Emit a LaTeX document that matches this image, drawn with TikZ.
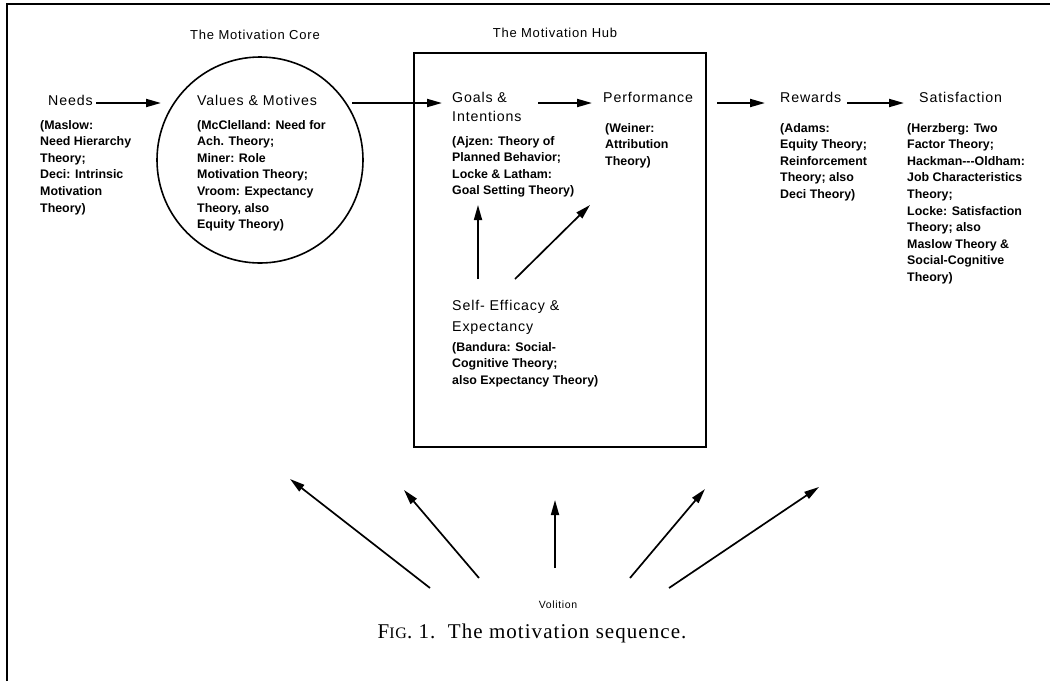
\documentclass[tikz,border=0pt]{standalone}
\usepackage{fontspec}
\usetikzlibrary{arrows.meta}
\newfontfamily\hv{Liberation Sans}
\newfontfamily\hvl[LetterSpace=6]{Liberation Sans}
\newfontfamily\tms[LetterSpace=5]{Liberation Serif}
\begin{document}
\begin{tikzpicture}[x=1pt,y=-1pt,
  lab/.style={font=\hvl\fontsize{14.2}{19.5}\selectfont, inner sep=0pt, anchor=north west, align=left},
  desc/.style={font=\hv\bfseries\fontsize{12.4}{16.6}\selectfont, inner sep=0pt, anchor=north west, align=left},
  ttl/.style={font=\hvl\fontsize{13}{15}\selectfont, inner sep=0pt},
  arr/.style={line width=1.9pt, -{Triangle[length=15pt,width=8pt]}},
  arrs/.style={line width=1.7pt, -{Triangle[length=15pt,width=8pt]}},
  shp/.style={draw, line width=1.6pt}
]
\useasboundingbox (0,0) rectangle (1050,681);
\draw[line width=2.2pt] (7,681) -- (7,4) -- (1050,4);

% titles
\node[ttl] (tcore) at (255,35) {The Motivation Core};
\node[ttl] (thub) at (555,33) {The Motivation Hub};

% core circle and hub box
\node[shp, circle, minimum size=206pt, inner sep=0pt] (core) at (260,160) {};
\node[shp, rectangle, minimum width=292pt, minimum height=394pt, inner sep=0pt, anchor=north west] (hub) at (413,52) {};

% labels
\node[lab] (needs) at (48,95) {Needs};
\node[desc] (needsd) at (40,120) {(Maslow:\\Need Hierarchy\\Theory;\\Deci: Intrinsic\\Motivation\\Theory)};

\node[lab] (values) at (197,95) {Values \& Motives};
\node[desc] (valuesd) at (197,120) {(McClelland: Need for\\Ach. Theory;\\Miner: Role\\Motivation Theory;\\Vroom: Expectancy\\Theory, also\\Equity Theory)};

\node[lab] (goals) at (452,92) {Goals \&\\Intentions};
\node[desc] (goalsd) at (452,136) {(Ajzen: Theory of\\Planned Behavior;\\Locke \& Latham:\\Goal Setting Theory)};

\node[lab] (perf) at (603,92) {Performance};
\node[desc] (perfd) at (605,123) {(Weiner:\\Attribution\\Theory)};

\node[lab] (rew) at (780,92) {Rewards};
\node[desc] (rewd) at (780,123) {(Adams:\\Equity Theory;\\Reinforcement\\Theory; also\\Deci Theory)};

\node[lab] (sat) at (919,92) {Satisfaction};
\node[desc] (satd) at (907,123) {(Herzberg: Two\\Factor Theory;\\Hackman---Oldham:\\Job Characteristics\\Theory;\\Locke: Satisfaction\\Theory; also\\Maslow Theory \&\\Social-Cognitive\\Theory)};

\node[lab, font=\hvl\fontsize{14.2}{21}\selectfont] (self) at (452,300) {Self- Efficacy \&\\Expectancy};
\node[desc] (selfd) at (452,342) {(Bandura: Social-\\Cognitive Theory;\\also Expectancy Theory)};

\node[ttl, font=\hvl\fontsize{10.5}{12}\selectfont] (vol) at (558,605) {Volition};
\node[inner sep=0pt, font=\tms\fontsize{21}{24}\selectfont] (cap) at (532,633) {F{\fontsize{16}{20}\selectfont IG}. 1.\ \ The motivation sequence.};

% main sequence arrows
\coordinate (n1) at (96,103);
\coordinate (n2) at (161,103);
\draw[arr] (n1) -- (n2);
\coordinate (c1) at (352,103);
\coordinate (c2) at (442,103);
\draw[arr] (c1) -- (c2);
\coordinate (g1) at (538,103);
\coordinate (g2) at (592,103);
\draw[arr] (g1) -- (g2);
\coordinate (h1) at (717,103);
\coordinate (h2) at (765,103);
\draw[arr] (h1) -- (h2);
\coordinate (r1) at (847,103);
\coordinate (r2) at (904,103);
\draw[arr] (r1) -- (r2);

% self-efficacy arrows
\coordinate (s1) at (478,279);
\coordinate (s2) at (478,205);
\draw[arrs] (s1) -- (s2);
\coordinate (s3) at (515,279);
\coordinate (s4) at (590,205);
\draw[arrs] (s3) -- (s4);

% volition arrows
\coordinate (va1) at (430,588); \coordinate (va2) at (290,479);
\coordinate (vb1) at (479,578); \coordinate (vb2) at (404,490);
\coordinate (vc1) at (555,568); \coordinate (vc2) at (555,500);
\coordinate (vd1) at (630,578); \coordinate (vd2) at (705,489);
\coordinate (ve1) at (669,588); \coordinate (ve2) at (819,487);
\draw[arrs] (va1) -- (va2);
\draw[arrs] (vb1) -- (vb2);
\draw[arrs] (vc1) -- (vc2);
\draw[arrs] (vd1) -- (vd2);
\draw[arrs] (ve1) -- (ve2);
\end{tikzpicture}
\end{document}
